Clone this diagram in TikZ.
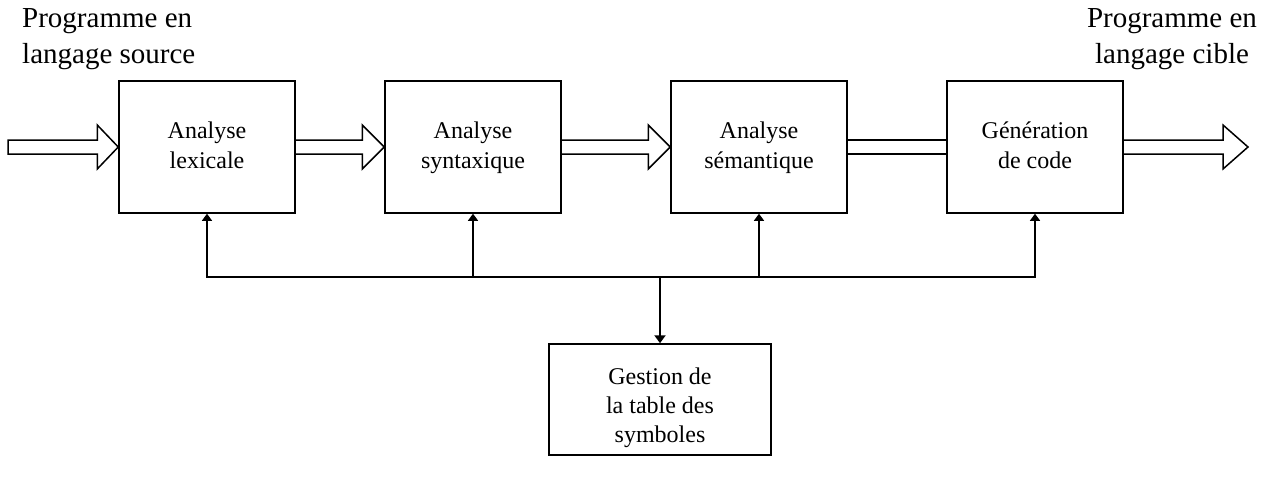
\documentclass[tikz,border=0pt]{standalone}
\usepackage{fontspec}
\setmainfont{Liberation Serif}
\usetikzlibrary{arrows.meta,calc}
\begin{document}
\begin{tikzpicture}[x=1pt,y=-1pt,
  proc/.style={draw, line width=1.5pt, minimum width=176pt, minimum height=132pt, inner sep=0pt, align=center, font=\fontsize{24}{30}\selectfont},
  lbl/.style={inner sep=0pt, font=\fontsize{29}{36}\selectfont},
  blk/.style={draw, line width=1.5pt, line join=miter},
  bus/.style={line width=1.3pt},
  drop/.style={line width=2pt},
  tipup/.style={-{Triangle[width=10pt,length=7pt]}}]
\useasboundingbox (0,0) rectangle (1268,477);

\node[proc] (b1) at (207,147) {\strut Analyse\\\strut lexicale};
\node[proc] (b2) at (473,147) {\strut Analyse\\\strut syntaxique};
\node[proc] (b3) at (759,147) {\strut Analyse\\\strut sémantique};
\node[proc] (b4) at (1035,147) {\strut Génération\\\strut de code};
\node[proc, minimum width=222pt, minimum height=111pt] (ts) at (660,399.5) {};
\node[inner sep=0pt, align=center, font=\fontsize{24}{29}\selectfont] (tst) at (660,408) {\strut Gestion de\\\strut la table des\\\strut symboles};

\node[lbl, align=left, anchor=north west] (src) at (22,8) {Programme en\\langage source};
\node[lbl, align=center, anchor=north] (tgt) at (1172,8) {Programme en\\langage cible};

\coordinate (in) at (8,147);
\coordinate (out) at (1248,147);

% hollow block arrows
\draw[blk] let \p1=(in), \p2=(b1.west) in
  (\x1,{\y1+7pt}) -- ({\x2-21pt},{\y1+7pt}) -- ({\x2-21pt},{\y1+22pt}) -- (\x2,\y1)
  -- ({\x2-21pt},{\y1-22pt}) -- ({\x2-21pt},{\y1-7pt}) -- (\x1,{\y1-7pt}) -- cycle;
\draw[blk] let \p1=(b1.east), \p2=(b2.west) in
  (\x1,{\y1+7pt}) -- ({\x2-22pt},{\y1+7pt}) -- ({\x2-22pt},{\y1+22pt}) -- (\x2,\y1)
  -- ({\x2-22pt},{\y1-22pt}) -- ({\x2-22pt},{\y1-7pt}) -- (\x1,{\y1-7pt});
\draw[blk] let \p1=(b2.east), \p2=(b3.west) in
  (\x1,{\y1+7pt}) -- ({\x2-22pt},{\y1+7pt}) -- ({\x2-22pt},{\y1+22pt}) -- (\x2,\y1)
  -- ({\x2-22pt},{\y1-22pt}) -- ({\x2-22pt},{\y1-7pt}) -- (\x1,{\y1-7pt});
\draw[blk] ($(b3.east)+(0,-7)$) -- ($(b4.west)+(0,-7)$);
\draw[blk] ($(b3.east)+(0,7)$) -- ($(b4.west)+(0,7)$);
\draw[blk] let \p1=(b4.east), \p2=(out) in
  (\x1,{\y1+7pt}) -- ({\x2-25pt},{\y1+7pt}) -- ({\x2-25pt},{\y1+22pt}) -- (\x2,\y1)
  -- ({\x2-25pt},{\y1-22pt}) -- ({\x2-25pt},{\y1-7pt}) -- (\x1,{\y1-7pt});

% symbol table bus
\coordinate (j) at (660,277);
\draw[bus, tipup] (j) -| (b1.south);
\draw[bus, tipup] (j) -| (b2.south);
\draw[bus, tipup] (j) -| (b3.south);
\draw[bus, tipup] (j) -| (b4.south);
\draw[drop, -{Triangle[width=11pt,length=8pt]}] (j) -- (ts.north);
\end{tikzpicture}
\end{document}
